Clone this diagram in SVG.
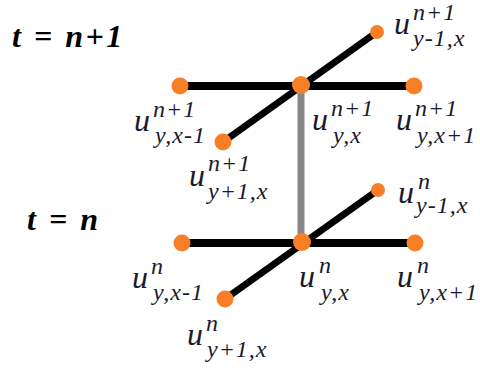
<svg xmlns="http://www.w3.org/2000/svg" width="480" height="370" viewBox="0 0 480 370">
<style>
.bg{fill:#ffffff}
.edge{stroke:#000000;stroke-width:8;fill:none}
.diag{stroke:#000000;stroke-width:7;fill:none}
.time{stroke:#888888;stroke-width:7;fill:none}
.dot{fill:#f97f27}
text{font-family:'Liberation Serif', 'Times New Roman', Times, serif}
.lbl{font-style:italic;fill:#1a1a2e}
.u{font-size:32px}
.s{font-size:24px;letter-spacing:1px}
.title{font-style:italic;font-weight:bold;font-size:32px;fill:#000000;letter-spacing:2.5px}
</style>
<rect class="bg" x="0" y="0" width="480" height="370"/>
<text class="title" x="12" y="47" font-family="Liberation Serif, serif">t = n+1</text>
<text class="title" x="27" y="230" font-family="Liberation Serif, serif">t = n</text>
<g id="connectors">
  <line class="time" x1="301" y1="86" x2="301" y2="242"/>
  <line class="edge" x1="180" y1="86" x2="414" y2="86"/>
  <line class="diag" x1="223" y1="142" x2="377" y2="32"/>
  <line class="edge" x1="182" y1="243" x2="415" y2="243"/>
  <line class="diag" x1="225" y1="299" x2="378" y2="190"/>
</g>
<g id="n1_y_xm1">
  <circle class="dot" cx="180" cy="86" r="8.5"/>
  <text class="lbl" font-family="Liberation Serif, serif"><tspan class="u" x="134" y="131">u</tspan><tspan class="s" x="153" y="117">n+1</tspan><tspan class="s" x="155" y="143">y,x-1</tspan></text>
</g>
<g id="n1_y_x">
  <circle class="dot" cx="301" cy="85" r="9"/>
  <text class="lbl" font-family="Liberation Serif, serif"><tspan class="u" x="312" y="130">u</tspan><tspan class="s" x="331" y="116">n+1</tspan><tspan class="s" x="333" y="143">y,x</tspan></text>
</g>
<g id="n1_y_xp1">
  <circle class="dot" cx="414" cy="86" r="8.5"/>
  <text class="lbl" font-family="Liberation Serif, serif"><tspan class="u" x="396" y="130">u</tspan><tspan class="s" x="415" y="116">n+1</tspan><tspan class="s" x="417" y="143">y,x+1</tspan></text>
</g>
<g id="n1_ym1_x">
  <circle class="dot" cx="377" cy="32" r="7"/>
  <text class="lbl" font-family="Liberation Serif, serif"><tspan class="u" x="394" y="34">u</tspan><tspan class="s" x="413" y="20">n+1</tspan><tspan class="s" x="413" y="46">y-1,x</tspan></text>
</g>
<g id="n1_yp1_x">
  <circle class="dot" cx="223" cy="142" r="8.5"/>
  <text class="lbl" font-family="Liberation Serif, serif"><tspan class="u" x="189" y="186">u</tspan><tspan class="s" x="208" y="171">n+1</tspan><tspan class="s" x="208" y="199">y+1,x</tspan></text>
</g>
<g id="n_y_xm1">
  <circle class="dot" cx="182" cy="243" r="8.5"/>
  <text class="lbl" font-family="Liberation Serif, serif"><tspan class="u" x="132" y="288">u</tspan><tspan class="s" x="151" y="274">n</tspan><tspan class="s" x="153" y="300">y,x-1</tspan></text>
</g>
<g id="n_y_x">
  <circle class="dot" cx="302" cy="242" r="9"/>
  <text class="lbl" font-family="Liberation Serif, serif"><tspan class="u" x="299" y="287">u</tspan><tspan class="s" x="319" y="273">n</tspan><tspan class="s" x="321" y="300">y,x</tspan></text>
</g>
<g id="n_y_xp1">
  <circle class="dot" cx="415" cy="243" r="8.5"/>
  <text class="lbl" font-family="Liberation Serif, serif"><tspan class="u" x="397" y="287">u</tspan><tspan class="s" x="417" y="273">n</tspan><tspan class="s" x="419" y="300">y,x+1</tspan></text>
</g>
<g id="n_ym1_x">
  <circle class="dot" cx="378" cy="190" r="7"/>
  <text class="lbl" font-family="Liberation Serif, serif"><tspan class="u" x="398" y="203">u</tspan><tspan class="s" x="418" y="189">n</tspan><tspan class="s" x="416" y="213">y-1,x</tspan></text>
</g>
<g id="n_yp1_x">
  <circle class="dot" cx="225" cy="299" r="8.5"/>
  <text class="lbl" font-family="Liberation Serif, serif"><tspan class="u" x="187" y="345">u</tspan><tspan class="s" x="206" y="331">n</tspan><tspan class="s" x="207" y="357">y+1,x</tspan></text>
</g>
</svg>
